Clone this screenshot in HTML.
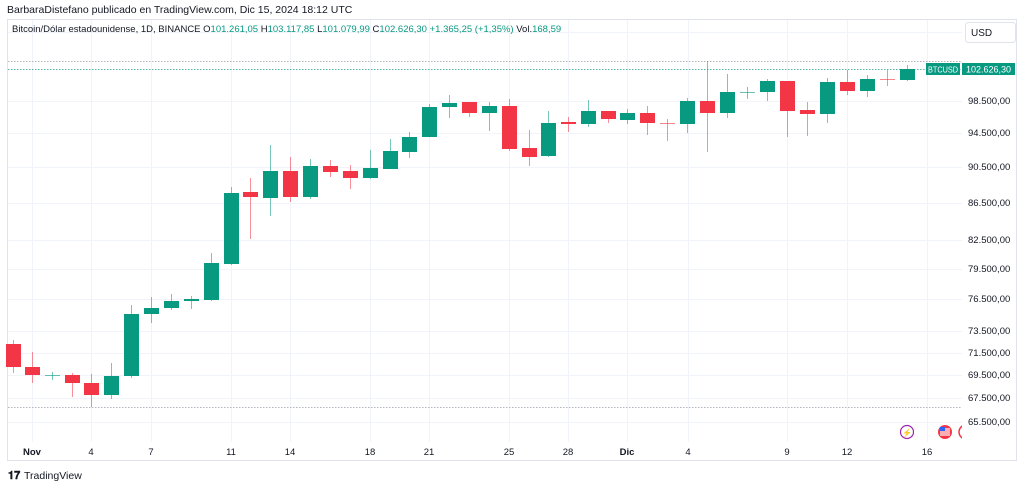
<!DOCTYPE html>
<html><head><meta charset="utf-8"><style>
body{margin:0;background:#fff;width:1024px;height:486px;overflow:hidden;font-family:"Liberation Sans",sans-serif}
</style></head><body>
<svg width="1024" height="486" xmlns="http://www.w3.org/2000/svg" font-family="Liberation Sans, sans-serif">
<defs><clipPath id="pl"><rect x="8" y="20" width="954" height="422"/></clipPath></defs>
<rect width="1024" height="486" fill="#fff"/>
<text x="7" y="13" font-size="10.5" fill="#131722">BarbaraDistefano publicado en TradingView.com, Dic 15, 2024 18:12 UTC</text>
<rect x="7.5" y="19.5" width="1009" height="441" fill="none" stroke="#e0e3eb"/>
<g stroke="#f0f3fa" stroke-width="1">
<line x1="8" x2="962" y1="101.5" y2="101.5"/><line x1="8" x2="962" y1="133.5" y2="133.5"/><line x1="8" x2="962" y1="167.5" y2="167.5"/><line x1="8" x2="962" y1="203.5" y2="203.5"/><line x1="8" x2="962" y1="240.5" y2="240.5"/><line x1="8" x2="962" y1="269.5" y2="269.5"/><line x1="8" x2="962" y1="299.5" y2="299.5"/><line x1="8" x2="962" y1="331.5" y2="331.5"/><line x1="8" x2="962" y1="353.5" y2="353.5"/><line x1="8" x2="962" y1="375.5" y2="375.5"/><line x1="8" x2="962" y1="398.5" y2="398.5"/><line x1="8" x2="962" y1="422.5" y2="422.5"/><line x1="8" x2="962" y1="32.5" y2="32.5"/>
<line x1="32.5" x2="32.5" y1="20" y2="442"/><line x1="91.5" x2="91.5" y1="20" y2="442"/><line x1="151.5" x2="151.5" y1="20" y2="442"/><line x1="231.5" x2="231.5" y1="20" y2="442"/><line x1="290.5" x2="290.5" y1="20" y2="442"/><line x1="370.5" x2="370.5" y1="20" y2="442"/><line x1="429.5" x2="429.5" y1="20" y2="442"/><line x1="509.5" x2="509.5" y1="20" y2="442"/><line x1="568.5" x2="568.5" y1="20" y2="442"/><line x1="627.5" x2="627.5" y1="20" y2="442"/><line x1="688.5" x2="688.5" y1="20" y2="442"/><line x1="787.5" x2="787.5" y1="20" y2="442"/><line x1="847.5" x2="847.5" y1="20" y2="442"/><line x1="927.5" x2="927.5" y1="20" y2="442"/>
</g>
<text x="12" y="32" font-size="9.5" fill="#131722">Bitcoin/Dólar estadounidense, 1D, BINANCE <tspan>O</tspan><tspan fill="#089981">101.261,05</tspan> H<tspan fill="#089981">103.117,85</tspan> L<tspan fill="#089981">101.079,99</tspan> C<tspan fill="#089981">102.626,30</tspan> <tspan fill="#089981">+1.365,25 (+1,35%)</tspan> Vol.<tspan fill="#089981">168,59</tspan></text>
<rect x="965.5" y="22.5" width="50" height="20" rx="3" fill="#fff" stroke="#e0e3eb"/>
<text x="971" y="36" font-size="10" fill="#131722">USD</text>
<line x1="8" x2="962" y1="61.5" y2="61.5" stroke="#b2b5be" stroke-dasharray="1.5,1.5"/>
<line x1="8" x2="962" y1="69.5" y2="69.5" stroke="#089981" stroke-dasharray="1.5,1.5" opacity="0.7"/>
<line x1="8" x2="962" y1="407.5" y2="407.5" stroke="#b2b5be" stroke-dasharray="1.5,1.5"/>
<g id="c"></g>
<g font-size="9.5" fill="#131722">
<text x="968" y="104">98.500,00</text><text x="968" y="136">94.500,00</text><text x="968" y="170">90.500,00</text><text x="968" y="206">86.500,00</text><text x="968" y="243">82.500,00</text><text x="968" y="272">79.500,00</text><text x="968" y="302">76.500,00</text><text x="968" y="334">73.500,00</text><text x="968" y="356">71.500,00</text><text x="968" y="378">69.500,00</text><text x="968" y="401">67.500,00</text><text x="968" y="425">65.500,00</text>
</g>
<rect x="926" y="63" width="34" height="12" fill="#089981"/><text x="928" y="72.5" font-size="8.5" fill="#fff" textLength="30" lengthAdjust="spacingAndGlyphs">BTCUSD</text>
<rect x="962" y="63" width="53" height="12" fill="#089981"/><text x="966" y="72.5" font-size="9" fill="#fff">102.626,30</text>
<g font-size="9.5" fill="#131722" text-anchor="middle">
<text x="32" y="455" font-weight="bold">Nov</text><text x="91" y="455">4</text><text x="151" y="455">7</text><text x="231" y="455">11</text><text x="290" y="455">14</text><text x="370" y="455">18</text><text x="429" y="455">21</text><text x="509" y="455">25</text><text x="568" y="455">28</text><text x="627" y="455" font-weight="bold">Dic</text><text x="688" y="455">4</text><text x="787" y="455">9</text><text x="847" y="455">12</text><text x="927" y="455">16</text>
</g>
<g clip-path="url(#pl)">
<circle cx="907" cy="432" r="6.5" fill="#fff" stroke="#9c27b0" stroke-width="1.2"/><text x="907" y="435.5" font-size="8" fill="#9c27b0" text-anchor="middle">⚡</text>
<circle cx="945" cy="432" r="7" fill="#f23645"/><rect x="940" y="428" width="10" height="8" fill="#fff" opacity="0.6"/><rect x="940" y="427" width="5" height="4" fill="#2962ff"/>
<circle cx="966" cy="432" r="7" fill="#fff" stroke="#f23645" stroke-width="1.5"/>
</g>
<text x="8" y="479" font-size="11" font-weight="bold" fill="#131722">𝟏𝟕</text>
<text x="24" y="479" font-size="10.5" fill="#131722">TradingView</text>
</svg>
<script>
var d=[[13,340,344,367,373,0],[32,352,367,375,383,0],[52,372,375,376,380,1],[72,373,375,383,397,0],[91,374,383,395,407,0],[111,363,376,395,399,1],[131,305,314,376,378,1],[151,297,308,314,323,1],[171,294,301,308,310,1],[191,296,299,301,309,1],[211,253,263,300,301,1],[231,187,193,264,265,1],[250,178,192,197,239,0],[270,145,171,198,216,1],[290,157,171,197,202,0],[310,159,166,197,199,1],[330,160,166,172,177,0],[350,165,171,178,189,0],[370,150,168,178,179,1],[390,139,151,169,169,1],[409,132,137,152,158,1],[429,104,107,137,137,1],[449,95,103,107,118,1],[469,102,102,113,117,0],[489,102,106,113,131,1],[509,99,106,149,151,0],[529,130,148,157,166,0],[548,111,123,156,157,1],[568,117,122,124,132,0],[588,100,111,124,127,1],[608,111,111,119,123,0],[627,109,113,120,124,1],[647,106,113,123,135,0],[667,119,123,124,141,0],[687,98,101,124,133,1],[707,61,101,113,152,0],[727,74,92,113,118,1],[747,87,92,93,99,1],[767,79,81,92,101,1],[787,81,81,111,137,0],[807,102,110,114,136,0],[827,78,82,114,123,1],[847,70,82,91,95,0],[867,75,79,91,97,1],[887,70,79,80,86,0],[907,65,69,80,81,1]];
var s='';d.forEach(function(c){var col=c[5]?'#089981':'#f23645';var op=c[3]-c[2]<2?0.6:1;s+='<line x1="'+(c[0]+.5)+'" x2="'+(c[0]+.5)+'" y1="'+c[1]+'" y2="'+c[4]+'" stroke="'+col+'" opacity="0.55"/>';var h=Math.max(c[3]-c[2],1);s+='<rect x="'+(c[0]-7)+'" y="'+c[2]+'" width="15" height="'+h+'" fill="'+col+'" opacity="'+op+'"/>';});
document.getElementById('c').innerHTML=s;
</script>
</body></html>
